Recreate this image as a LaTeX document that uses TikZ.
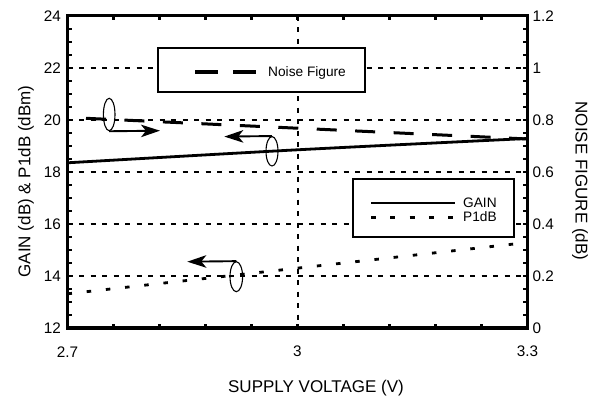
\documentclass[tikz,border=0pt]{standalone}
\usepackage{fontspec}
\setmainfont{Liberation Sans}
\usetikzlibrary{arrows.meta,shapes.geometric}
\begin{document}
\begin{tikzpicture}[x=1pt,y=-1pt,
  gridline/.style={line width=2pt, dash pattern=on 5pt off 6.5pt},
  frameline/.style={line width=3.6pt},
  tickmark/.style={line width=2.2pt},
  gaincurve/.style={line width=2.8pt},
  nfcurve/.style={line width=3pt, dash pattern=on 20pt off 18.5pt},
  pcurve/.style={line width=2.8pt, dash pattern=on 4.5pt off 14.8pt},
  legbox/.style={draw, line width=2.8pt, fill=white, inner sep=0pt},
  oval/.style={draw, ellipse, line width=1.1pt, inner sep=0pt},
  callout/.style={line width=1.9pt, -{Stealth[length=19pt,width=12.5pt,inset=5pt]}},
  ticklabel/.style={font=\fontsize{15.3}{15.3}\selectfont, inner sep=0pt},
  axtitle/.style={font=\fontsize{17}{17}\selectfont, inner sep=0pt},
  legtext/.style={font=\fontsize{13.7}{13.7}\selectfont, inner sep=0pt, anchor=base west},
]
\useasboundingbox (0,0) rectangle (595,398);
\fill[white] (0,0) rectangle (595,398);
% grid
\foreach \v in {14,16,18,20,22} {
  \pgfmathsetmacro{\yy}{328.3-(\v-12)*26.05}
  \draw[gridline] (67.5,\yy) -- (527.5,\yy);
}
\draw[gridline] (297.5,15.7) -- (297.5,328.3);
% ticks
\foreach \i in {1,...,23} {
  \pgfmathsetmacro{\yy}{328.3-\i*13.025}
  \draw[tickmark] (67.5,\yy) -- (72,\yy);
  \draw[tickmark] (527.5,\yy) -- (523,\yy);
}
\foreach \i in {1,...,9} {
  \pgfmathsetmacro{\xx}{67.5+\i*46}
  \draw[tickmark] (\xx,15.7) -- (\xx,20.2);
  \draw[tickmark] (\xx,328.3) -- (\xx,323.8);
}
% curves
\draw[gaincurve] plot[smooth] coordinates {(67.5,162.8) (297.5,149.8) (527.5,138.5)};
\draw[nfcurve] (86,118.3) -- (527.5,139);
\draw[pcurve] (67.5,293.8) -- (527.5,242.5);
% legends
\node[legbox, minimum width=207pt, minimum height=44pt] (leg1) at (261.5,70) {};
\draw[line width=3.3pt, dash pattern=on 23pt off 15pt] (195,72) -- (257,72);
\node[legtext] (nftext) at (268,76.3) {Noise Figure};
\node[legbox, minimum width=161pt, minimum height=58pt] (leg2) at (433.5,208) {};
\draw[gaincurve] (371,203) -- (455,203);
\draw[pcurve, line width=3pt, dash pattern=on 5pt off 14.3pt] (371,218) -- (455,218);
\node[legtext] (gaintext) at (463,207.5) {GAIN};
\node[legtext] (ptext) at (463,221.8) {P1dB};
% frame
\draw[frameline] (67.5,15.7) rectangle (527.5,328.3);
% ellipses and callouts
\node[oval, minimum width=11.6pt, minimum height=32.4pt] (e1) at (109.2,114.5) {};
\node[oval, minimum width=12pt, minimum height=29.4pt] (e2) at (272,151.3) {};
\node[oval, minimum width=12.6pt, minimum height=30pt] (e3) at (236.3,276.7) {};
\coordinate (t1) at (160,130.7);
\coordinate (t2) at (224.3,136.6);
\coordinate (t3) at (187.3,261.7);
\draw[callout] (e1.south) -- (t1);
\draw[callout] (e2.north) -- (t2);
\draw[callout] (e3.north) -- (t3);
% tick labels
\foreach \v [count=\k from 0] in {12,14,16,18,20,22,24} {
  \pgfmathsetmacro{\yy}{328.3-\k*52.1}
  \node[ticklabel, anchor=east] (l\v) at (61,\yy) {\v};
}
\foreach \v [count=\k from 0] in {0,0.2,0.4,0.6,0.8,1,1.2} {
  \pgfmathsetmacro{\yy}{328.3-\k*52.1}
  \node[ticklabel, anchor=west] (r\k) at (532.5,\yy) {\v};
}
\node[ticklabel] (b1) at (67.5,351.7) {2.7};
\node[ticklabel] (b2) at (297.5,351.7) {3};
\node[ticklabel] (b3) at (527.5,351.7) {3.3};
% titles
\node[axtitle, anchor=base] (xt) at (316,392.5) {SUPPLY VOLTAGE (V)};
\node[axtitle, anchor=base, rotate=90] (yl) at (30.5,181.5) {GAIN (dB) \& P1dB (dBm)};
\node[axtitle, anchor=base, rotate=-90] (yr) at (575.5,181) {NOISE FIGURE (dB)};
\end{tikzpicture}
\end{document}
